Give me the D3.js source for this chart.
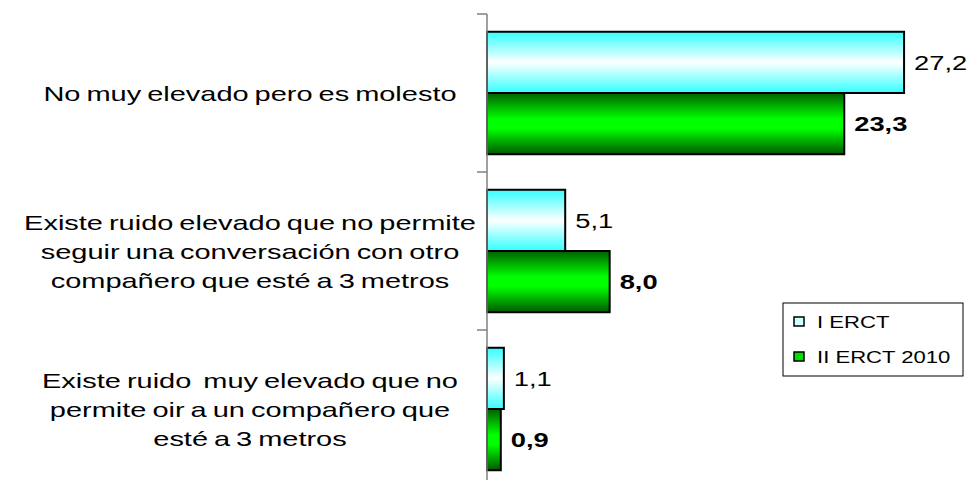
<!DOCTYPE html>
<html>
<head>
<meta charset="utf-8">
<script src="https://cdn.jsdelivr.net/npm/d3@7"></script>
<style>
  html, body { margin: 0; padding: 0; background: #fff; }
  svg { display: block; font-family: "Liberation Sans", Arial, sans-serif; }
</style>
</head>
<body>
<svg id="chart" width="971" height="480"></svg>
<script>
// ---- data ----
const categories = [
  ["No muy elevado pero es molesto"],
  ["Existe ruido elevado que no permite", "seguir una conversación con otro", "compañero que esté a 3 metros"],
  ["Existe ruido  muy elevado que no", "permite oir a un compañero que", "esté a 3 metros"]
];
const seriesNames = ["I ERCT", "II ERCT 2010"];
const seriesI = [27.2, 5.1, 1.1];
const seriesII = [23.3, 8.0, 0.9];
const seriesValues = [seriesI, seriesII];

// ---- layout ----
const svg = d3.select("#chart");
const axisX = 487;
const catIdx = categories.map((d, i) => i);
const SX = 1.3;      // horizontal stretch of the text, as in the reference

const x = d3.scaleLinear().domain([0, 30]).range([axisX, axisX + 460]);
const y0 = d3.scaleBand().domain(catIdx).range([14, 488]).paddingInner(0).paddingOuter(0);
const y1 = d3.scaleBand().domain(d3.range(seriesNames.length)).range([0, y0.bandwidth()]).paddingInner(0).paddingOuter(0.29);

const fmt = v => d3.format(".1f")(v).replace(".", ",");

// gradients
const defs = svg.append("defs");
const gC = defs.append("linearGradient").attr("id", "gradCyan").attr("x1", 0).attr("y1", 0).attr("x2", 0).attr("y2", 1);
gC.append("stop").attr("offset", "0%").attr("stop-color", "#33FFFF");
gC.append("stop").attr("offset", "50%").attr("stop-color", "#FFFFFF");
gC.append("stop").attr("offset", "100%").attr("stop-color", "#33FFFF");
const gG = defs.append("linearGradient").attr("id", "gradGreen").attr("x1", 0).attr("y1", 0).attr("x2", 0).attr("y2", 1);
gG.append("stop").attr("offset", "0%").attr("stop-color", "#006000");
gG.append("stop").attr("offset", "42%").attr("stop-color", "#00FF00");
gG.append("stop").attr("offset", "58%").attr("stop-color", "#00FF00");
gG.append("stop").attr("offset", "100%").attr("stop-color", "#005800");
const fills = ["url(#gradCyan)", "url(#gradGreen)"];

// bars
seriesValues.forEach((vals, s) => {
  svg.append("g").selectAll("rect").data(vals).join("rect")
    .attr("x", x(0))
    .attr("y", (d, i) => y0(i) + y1(s))
    .attr("width", d => x(d) - x(0))
    .attr("height", y1.bandwidth())
    .attr("fill", fills[s])
    .attr("stroke", "#000")
    .attr("stroke-width", 2);
  svg.append("g").selectAll("text").data(vals).join("text")
    .attr("transform", (d, i) => `translate(${x(d) + 10},${y0(i) + y1(s) + y1.bandwidth() / 2}) scale(${SX},1)`)
    .attr("dy", "0.36em")
    .attr("font-size", 21)
    .attr("font-weight", s === 0 ? "normal" : "bold")
    .attr("fill", "#000")
    .text(d => fmt(d));
});

// axis (category axis on the left of the bars)
const axis = d3.axisLeft(y0).tickValues([]).tickSize(0);
const ax = svg.append("g").attr("transform", `translate(${axisX},0)`).call(axis);
ax.select(".domain").attr("stroke", "#808080").attr("stroke-width", 1.5)
  .attr("d", `M0,${y0.range()[0]}V${y0.range()[1]}`);
ax.selectAll("line.bt").data(catIdx).join("line").attr("class", "bt")
  .attr("x1", -10).attr("x2", 0)
  .attr("y1", d => y0(d)).attr("y2", d => y0(d))
  .attr("stroke", "#808080").attr("stroke-width", 1.5);

// category labels
const labG = svg.append("g");
categories.forEach((lines, i) => {
  const cy = y0(i) + y0.bandwidth() / 2;
  const lh = 29;
  const t = labG.append("text")
    .attr("transform", `translate(250,${cy}) scale(1.38,1)`)
    .attr("text-anchor", "middle")
    .attr("font-size", 21)
    .attr("word-spacing", -1.5)
    .attr("fill", "#000")
    .style("white-space", "pre");
  lines.forEach((ln, k) => {
    t.append("tspan")
      .attr("x", 0)
      .attr("y", (k - (lines.length - 1) / 2) * lh)
      .attr("dy", "0.36em")
      .text(ln);
  });
});

// legend
const lg = svg.append("g").attr("transform", "translate(783,303)");
lg.append("rect").attr("width", 180).attr("height", 73).attr("fill", "#fff").attr("stroke", "#000").attr("stroke-width", 1);
const keyFills = ["#CCFFFF", "#00DD00"];
seriesNames.forEach((nm, s) => {
  const cy = 19 + s * 35;
  lg.append("rect").attr("x", 11).attr("y", cy - 5).attr("width", 10).attr("height", 9)
    .attr("fill", keyFills[s]).attr("stroke", "#000").attr("stroke-width", 1.5);
  lg.append("text").attr("transform", `translate(34,${cy}) scale(${SX},1)`).attr("dy", "0.36em")
    .attr("font-size", 17).attr("fill", "#000").text(nm);
});
</script>
</body>
</html>
